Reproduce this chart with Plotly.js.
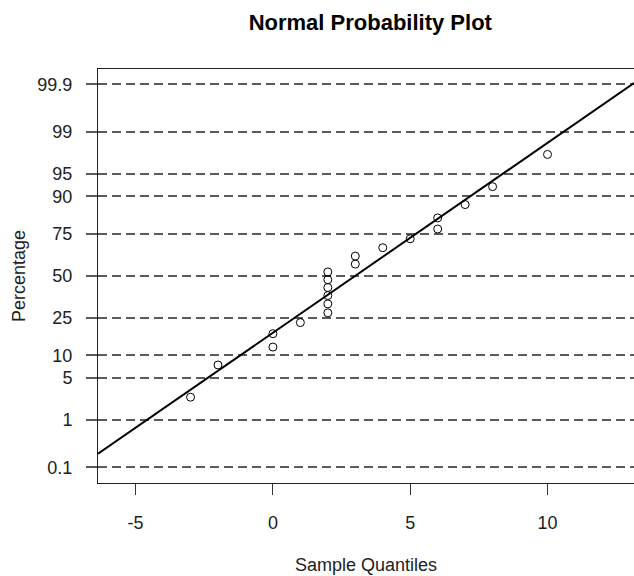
<!DOCTYPE html>
<html>
<head>
<meta charset="utf-8">
<script src="https://cdn.plot.ly/plotly-3.0.1.min.js"></script>
<style>html,body{margin:0;padding:0;background:#fff;}#chart{width:634px;height:576px;}</style>
</head>
<body>
<div id="chart"></div>
<script>
// Data
const sampleQuantiles = [-3, -2, 0, 0, 1, 2, 2, 2, 2, 2, 2, 3, 3, 4, 5, 6, 6, 7, 8, 10];
const percentages = [2.5, 7.5, 12.5, 17.5, 22.5, 27.5, 32.5, 37.5, 42.5, 47.5,
                     52.5, 57.5, 62.5, 67.5, 72.5, 77.5, 82.5, 87.5, 92.5, 97.5];
const tickPercents = [0.1, 1, 5, 10, 25, 50, 75, 90, 95, 99, 99.9];
const tickLabels = ['0.1', '1', '5', '10', '25', '50', '75', '90', '95', '99', '99.9'];
const xTickVals = [-5, 0, 5, 10];
const xRange = [-6.37, 13.15];
const yRangePct = [0.0411, 99.958];

// inverse normal CDF (probability scale transform)
function probit(p) {
  const a = [-3.969683028665376e+01, 2.209460984245205e+02, -2.759285104469687e+02, 1.383577518672690e+02, -3.066479806614716e+01, 2.506628277459239e+00];
  const b = [-5.447609879822406e+01, 1.615858368580409e+02, -1.556989798598866e+02, 6.680131188771972e+01, -1.328068155288572e+01];
  const c = [-7.784894002430293e-03, -3.223964580411365e-01, -2.400758277161838e+00, -2.549732539343734e+00, 4.374664141464968e+00, 2.938163982698783e+00];
  const d = [7.784695709041462e-03, 3.224671290700398e-01, 2.445134137142996e+00, 3.754408661907416e+00];
  const pl = 0.02425, ph = 1 - pl;
  let q, r;
  if (p < pl) {
    q = Math.sqrt(-2 * Math.log(p));
    return (((((c[0]*q+c[1])*q+c[2])*q+c[3])*q+c[4])*q+c[5]) / ((((d[0]*q+d[1])*q+d[2])*q+d[3])*q+1);
  } else if (p <= ph) {
    q = p - 0.5; r = q * q;
    return (((((a[0]*r+a[1])*r+a[2])*r+a[3])*r+a[4])*r+a[5])*q / (((((b[0]*r+b[1])*r+b[2])*r+b[3])*r+b[4])*r+1);
  } else {
    q = Math.sqrt(-2 * Math.log(1 - p));
    return -(((((c[0]*q+c[1])*q+c[2])*q+c[3])*q+c[4])*q+c[5]) / ((((d[0]*q+d[1])*q+d[2])*q+d[3])*q+1);
  }
}

const n = sampleQuantiles.length;
const mean = sampleQuantiles.reduce((s, v) => s + v, 0) / n;
const sd = Math.sqrt(sampleQuantiles.reduce((s, v) => s + (v - mean) * (v - mean), 0) / (n - 1));

const pointsTrace = {
  type: 'scatter', mode: 'markers',
  x: sampleQuantiles,
  y: percentages.map(p => probit(p / 100)),
  marker: { symbol: 'circle-open', size: 8, color: '#000', line: { width: 1, color: '#000' } },
  hoverinfo: 'x+y', showlegend: false, cliponaxis: false
};

const lineX = xRange.slice();
const lineTrace = {
  type: 'scatter', mode: 'lines',
  x: lineX,
  y: lineX.map(x => (x - mean) / sd),
  line: { color: '#000', width: 2 },
  showlegend: false, hoverinfo: 'skip'
};

const font = 'Liberation Sans, Arial, sans-serif';

const layout = {
  width: 634, height: 576,
  margin: { l: 98, r: 0, t: 69, b: 93 },
  paper_bgcolor: '#fff', plot_bgcolor: '#fff',
  showlegend: false,
  title: {
    text: 'Normal Probability Plot',
    font: { family: font, size: 22, color: '#000', weight: 'bold' },
    xref: 'paper', x: 0.508, xanchor: 'center',
    yref: 'container', y: 1 - 22 / 576, yanchor: 'middle'
  },
  xaxis: {
    range: xRange, tickvals: xTickVals, ticktext: xTickVals.map(String),
    showgrid: false, zeroline: false,
    showline: true, linecolor: '#222', linewidth: 1, mirror: true,
    ticks: 'outside', ticklen: 11, tickcolor: '#333', tickwidth: 1,
    tickfont: { family: font, size: 18, color: '#222' },
    ticklabelstandoff: 12,
    fixedrange: true
  },
  yaxis: {
    range: yRangePct.map(p => probit(p / 100)),
    tickvals: tickPercents.map(p => probit(p / 100)),
    ticktext: tickLabels,
    showgrid: true, gridcolor: '#5a5a5a', gridwidth: 2, griddash: '9px,5px',
    zeroline: false,
    showline: true, linecolor: '#222', linewidth: 1, mirror: false,
    ticks: 'outside', ticklen: 11, tickcolor: '#5a5a5a', tickwidth: 2,
    tickfont: { family: font, size: 18, color: '#222' },
    ticklabelstandoff: 10,
    fixedrange: true
  },
  annotations: [
    { text: 'Sample Quantiles', xref: 'paper', yref: 'paper', x: 0.5, y: -(565 - 483) / 414,
      xanchor: 'center', yanchor: 'middle', showarrow: false,
      font: { family: font, size: 18, color: '#222' } },
    { text: 'Percentage', xref: 'paper', yref: 'paper', x: -(98 - 19) / 536, y: 0.5,
      xanchor: 'center', yanchor: 'middle', showarrow: false, textangle: -90,
      font: { family: font, size: 18, color: '#222' } }
  ]
};

Plotly.newPlot('chart', [lineTrace, pointsTrace], layout, { staticPlot: true, displayModeBar: false });
</script>
</body>
</html>
